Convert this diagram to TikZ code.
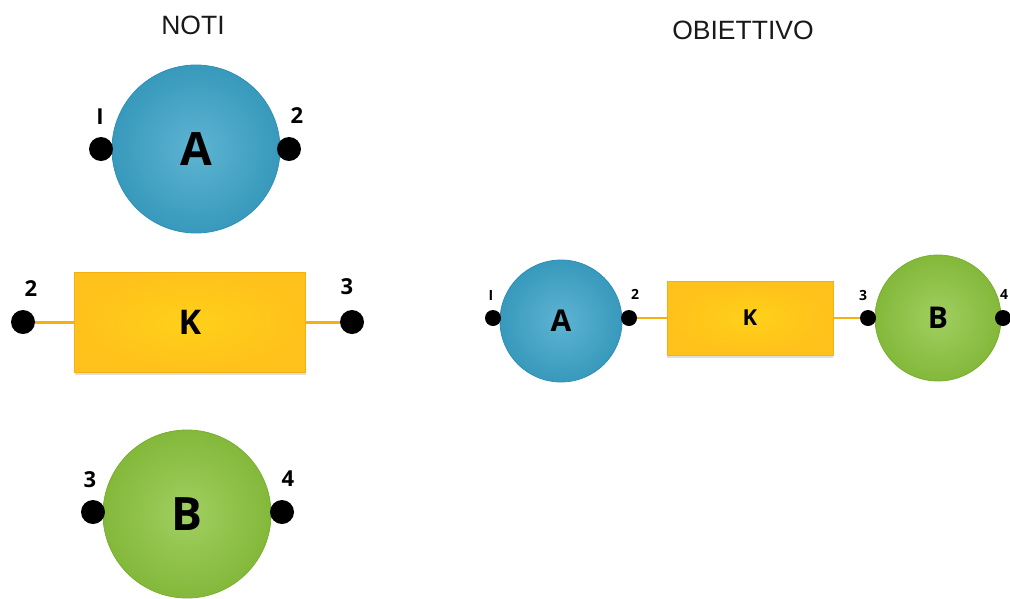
\documentclass[tikz,border=0pt]{standalone}
\usepackage{fontspec}
\setmainfont{Liberation Sans}
\newfontfamily\gillf{Open Sans}
\usetikzlibrary{shadows}
\definecolor{ablue}{HTML}{3BA3C8}
\definecolor{ablueD}{HTML}{2F90B5}
\definecolor{bgreen}{HTML}{8CC43E}
\definecolor{bgreenD}{HTML}{78AF30}
\definecolor{kyel}{HTML}{FFC81E}
\definecolor{kyelD}{HTML}{F6B012}
\tikzset{
  x=1pt, y=-1pt,
  title/.style={font=\fontsize{26.5}{28}\selectfont, text=black!90},
  bigA/.style={circle, minimum size=168pt, inner sep=0pt, draw=ablueD, line width=0.8pt,
     inner color=ablue!82!white, outer color=ablue!94!black, font=\gillf\bfseries\fontsize{46}{46}\selectfont},
  bigB/.style={circle, minimum size=168pt, inner sep=0pt, draw=bgreenD, line width=0.8pt,
     inner color=bgreen!82!white, outer color=bgreen!94!black, font=\gillf\bfseries\fontsize{46}{46}\selectfont},
  bigK/.style={rectangle, minimum width=231pt, minimum height=100pt, inner sep=0pt, draw=kyelD, line width=0.8pt,
     inner color=kyel!85!yellow, outer color=kyel!90!orange, drop shadow={opacity=0.25, shadow xshift=0pt, shadow yshift=-3pt},
     font=\gillf\bfseries\fontsize{34}{34}\selectfont},
  smA/.style={bigA, minimum size=122pt, font=\gillf\bfseries\fontsize{30}{30}\selectfont},
  smB/.style={bigB, minimum size=126pt, font=\gillf\bfseries\fontsize{30}{30}\selectfont},
  smK/.style={bigK, minimum width=166pt, minimum height=74pt, font=\gillf\bfseries\fontsize{22}{22}\selectfont},
  pin/.style={circle, fill=black, minimum size=24pt, inner sep=0pt},
  spin/.style={circle, fill=black, minimum size=16pt, inner sep=0pt},
  lab/.style={font=\gillf\bfseries\fontsize{22}{22}\selectfont, inner sep=0pt},
  slab/.style={font=\gillf\bfseries\fontsize{14}{14}\selectfont, inner sep=0pt},
  wire/.style={draw=kyelD, line width=3pt},
}
\begin{document}
\begin{tikzpicture}
\useasboundingbox (0,0) rectangle (1010,598);
% titles
\node[title] (tnoti) at (193,25) {NOTI};
\node[title] (tobj) at (743,30) {OBIETTIVO};
% left A
\node[bigA] (A1) at (196,149) {A};
\node[pin] (a1p1) at (101,149) {};
\node[pin] (a1p2) at (289,149) {};
\node[lab] (a1l1) at (100,117) {I};
\node[lab] (a1l2) at (297,116) {2};
% left K
\node[bigK] (K1) at (190,322) {K};
\node[pin] (k1p2) at (23,322) {};
\node[pin] (k1p3) at (352,322) {};
\draw[wire] (k1p2) -- (K1.west);
\draw[wire] (K1.east) -- (k1p3);
\node[lab] (k1l2) at (31,289) {2};
\node[lab] (k1l3) at (347,287) {3};
% left B
\node[bigB] (B1) at (187,514) {B};
\node[pin] (b1p3) at (93,512) {};
\node[pin] (b1p4) at (282,512) {};
\node[lab] (b1l3) at (90,480) {3};
\node[lab] (b1l4) at (288,479) {4};
% right side
\node[smA] (A2) at (561,321) {A};
\node[smK] (K2) at (750,318) {K};
\node[smB] (B2) at (938,318) {B};
\node[spin] (a2p1) at (493,318) {};
\node[spin] (a2p2) at (629,318) {};
\node[spin] (b2p3) at (868,318) {};
\node[spin] (b2p4) at (1003,318) {};
\draw[wire, line width=2.2pt] (a2p2) -- (K2.west);
\draw[wire, line width=2.2pt] (K2.east) -- (b2p3);
\node[slab] (a2l1) at (491,295) {I};
\node[slab] (a2l2) at (635,294) {2};
\node[slab] (b2l3) at (863,295) {3};
\node[slab] (b2l4) at (1004,294) {4};
\end{tikzpicture}
\end{document}
